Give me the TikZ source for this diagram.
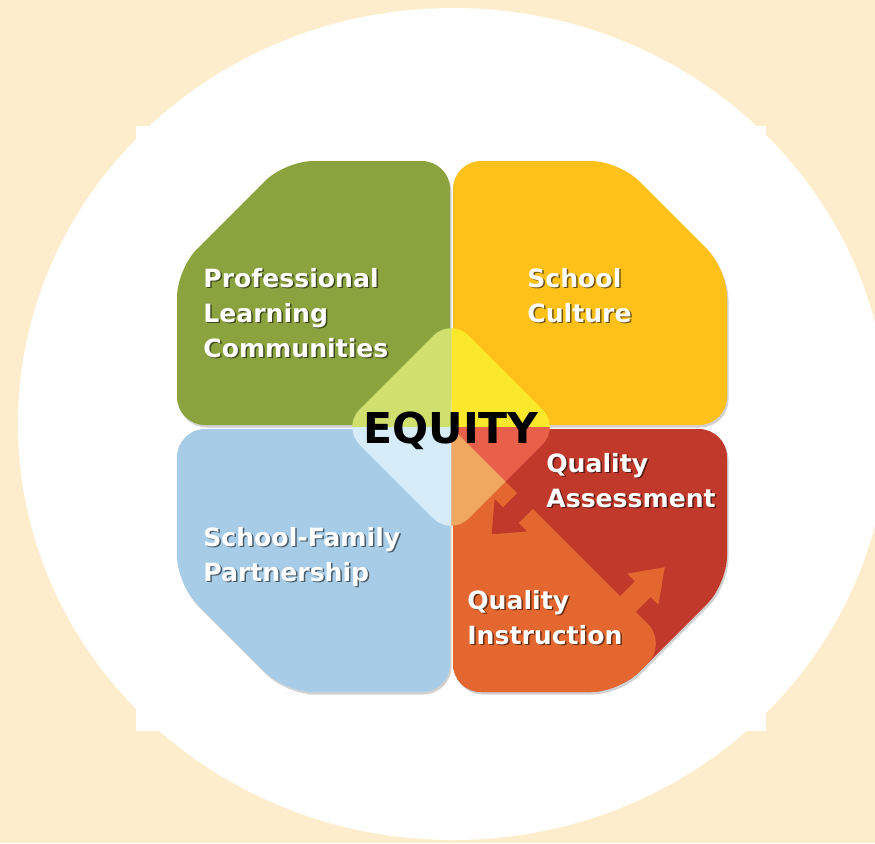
\documentclass[tikz,border=0pt]{standalone}
\usepackage{fontspec}
\setmainfont{DejaVu Sans}
\usepackage{tikz}

\definecolor{cream}{HTML}{FDEDCD}
\definecolor{qgreen}{HTML}{8BA33F}
\definecolor{qyellow}{HTML}{FDC11A}
\definecolor{qblue}{HTML}{A6CCE8}
\definecolor{qred}{HTML}{C1392B}
\definecolor{qorange}{HTML}{E3672F}
\definecolor{lgreen}{HTML}{CFE06F}
\definecolor{lyellow}{HTML}{FCE82A}
\definecolor{lblue}{HTML}{D6ECF8}
\definecolor{lred}{HTML}{E8604A}
\definecolor{lorange}{HTML}{F0A860}

\newcommand{\labelfont}{\bfseries\fontsize{14.3}{19.9}\selectfont}
\newcommand{\eqdiamond}[1]{\fill[#1, rounded corners=14] (396.5,372.5) -- (451,318) -- (560,427) -- (451,536) -- (342,427) -- cycle;}

\tikzset{
  quad/.style={rounded corners=16,
    preaction={fill=black, opacity=.18, transform canvas={shift={(1.5,2.5)}}}},
  lbl/.style={text=white, font=\labelfont, align=left, anchor=north west, inner sep=0pt},
  lblshadow/.style={lbl, text=black, opacity=.55, xshift=0.03cm, yshift=-0.03cm}
}

\begin{document}
\begin{tikzpicture}[x=0.02cm, y=-0.02cm]
    \useasboundingbox (0,0) rectangle (875,843);
    \fill[cream] (0,0) rectangle (875,843);
    \fill[white] (453,424) ellipse [x radius=435, y radius=416];
    \fill[white] (136,126) rectangle (766,731);

    % four quadrants
    \fill[qgreen, quad] (313,425) -- (177,425) -- (177,269) -- (285,161) -- (450,161) -- (450,425) -- cycle;
    \fill[qyellow, quad] (590,425) -- (453,425) -- (453,161) -- (619,161) -- (727,269) -- (727,425) -- cycle;
    \fill[qblue, quad] (313,692) -- (285,692) -- (177,584) -- (177,429) -- (450,429) -- (450,692) -- cycle;
    \fill[qred, quad] (540,692) -- (453,692) -- (453,429) -- (727,429) -- (727,584) -- (619,692) -- cycle;
    \fill[qorange, rounded corners=16] (540,692) -- (453,692) -- (453,429) -- (667.5,643.5) -- (619,692) -- cycle;

    % arrows between assessment and instruction
    \begin{scope}[shift={(525,501)}, rotate=225]
      \fill[qred] (-6,-11) -- (20,-11) -- (20,-23) -- (47,0) -- (20,23) -- (20,11) -- (-6,11) -- cycle;
    \end{scope}
    \begin{scope}[shift={(628,604)}, rotate=45]
      \fill[qorange] (-6,-11) -- (21,-11) -- (21,-22) -- (52,0) -- (21,22) -- (21,11) -- (-6,11) -- cycle;
    \end{scope}

    % centre diamond
    \begin{scope}
      \clip (300,250) rectangle (451.5,427);
      \eqdiamond{lgreen}
    \end{scope}
    \begin{scope}
      \clip (451.5,250) rectangle (600,427);
      \eqdiamond{lyellow}
    \end{scope}
    \begin{scope}
      \clip (300,427) rectangle (451.5,600);
      \eqdiamond{lblue}
    \end{scope}
    \begin{scope}
      \clip (451.5,427) rectangle (600,600);
      \eqdiamond{lred}
      \clip (451.5,427.5) -- (700,676) -- (451.5,676) -- cycle;
      \eqdiamond{lorange}
    \end{scope}

    \node[font=\bfseries\fontsize{24.2}{29}\selectfont, anchor=base, inner sep=0pt] (equity) at (451,443) {EQUITY};

    % labels
    \node[lblshadow] at (203,268) {Professional\\Learning\\Communities};
    \node[lbl] (plc) at (203,268) {Professional\\Learning\\Communities};
    \node[lblshadow] at (527,268) {School\\Culture};
    \node[lbl] (sc) at (527,268) {School\\Culture};
    \node[lblshadow] at (546,453) {Quality\\Assessment};
    \node[lbl] (qa) at (546,453) {Quality\\Assessment};
    \node[lblshadow] at (203,527) {School-Family\\Partnership};
    \node[lbl] (sfp) at (203,527) {School-Family\\Partnership};
    \node[lblshadow] at (467,590) {Quality\\Instruction};
    \node[lbl] (qi) at (467,590) {Quality\\Instruction};
\end{tikzpicture}
\end{document}
